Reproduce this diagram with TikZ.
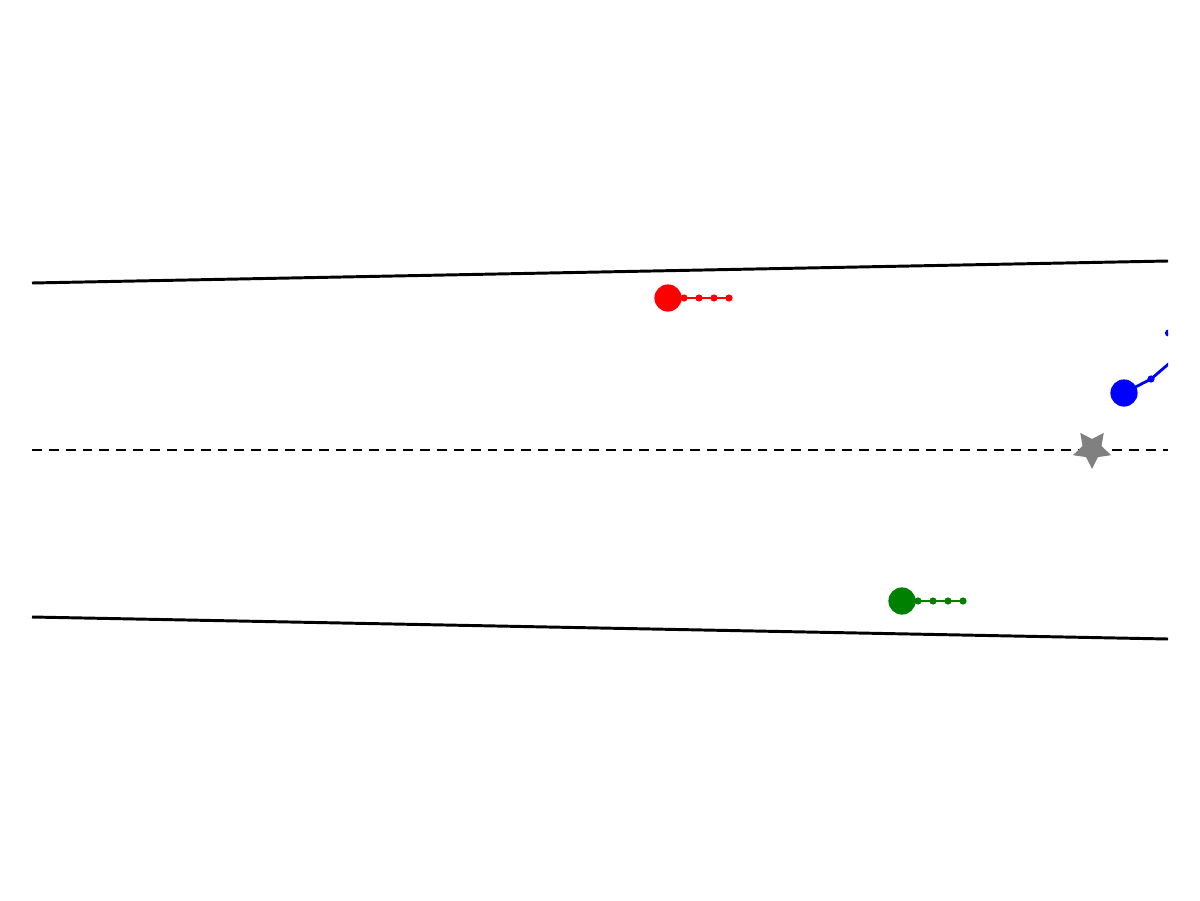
\documentclass[tikz,border=0pt]{standalone}
\usepackage{tikz}
\usetikzlibrary{shapes.geometric}
\definecolor{cRed}{HTML}{FF0000}
\definecolor{cBlue}{HTML}{0000FF}
\definecolor{cGreen}{HTML}{008000}
\definecolor{cGoal}{HTML}{808080}

\begin{document}
\begin{tikzpicture}[
  x=0.025cm, y=-0.025cm,
  wall/.style={draw=black, line width=2.1pt},
  centre/.style={draw=black, line width=2pt, dash pattern=on 7pt off 5pt},
  agent/.style={circle, inner sep=0pt, minimum size=0.68cm},
  trail/.style={circle, inner sep=0pt, minimum size=0.18cm},
  trailline/.style={line width=2pt},
  goal/.style={star, star points=5, star point ratio=0.5, fill=cGoal, inner sep=0pt, minimum size=0.5cm},
]
\useasboundingbox (0,0) rectangle (1200,900);

% road edges and centre line
\coordinate (tl) at (32,283);  \coordinate (tr) at (1168,261);
\coordinate (bl) at (32,617);  \coordinate (br) at (1168,639);
\coordinate (cl) at (32,450);  \coordinate (cr) at (1168,450);
\draw[wall] (tl) -- (tr);
\draw[wall] (bl) -- (br);
\draw[centre] (cl) -- (cr);

% goal
\node[goal] (g) at (1092,449) {};

% red agent
\node[agent, fill=cRed] (r0) at (668,298) {};
\foreach \i/\x in {1/684,2/699,3/714,4/729}
  \node[trail, fill=cRed] (r\i) at (\x,298) {};
\draw[trailline, cRed] (r0.center) -- (r4.center);

% green agent
\node[agent, fill=cGreen] (q0) at (902,601) {};
\foreach \i/\x in {1/918,2/933,3/948,4/963}
  \node[trail, fill=cGreen] (q\i) at (\x,601) {};
\draw[trailline, cGreen] (q0.center) -- (q4.center);

% blue agent, cut at the frame
\begin{scope}
  \clip (32,0) rectangle (1168,900);
  \node[agent, fill=cBlue] (b0) at (1124,393) {};
  \node[trail, fill=cBlue] (b1) at (1151,379) {};
  \node[trail, fill=cBlue] (b2) at (1172,361) {};
  \node[trail, fill=cBlue] (b3) at (1180,345) {};
  \node[trail, fill=cBlue] (b4) at (1168.5,333) {};
  \draw[trailline, cBlue] (b0.center) -- (b1.center) -- (b2.center) -- (b3.center) -- (b4.center);
\end{scope}

\end{tikzpicture}
\end{document}
